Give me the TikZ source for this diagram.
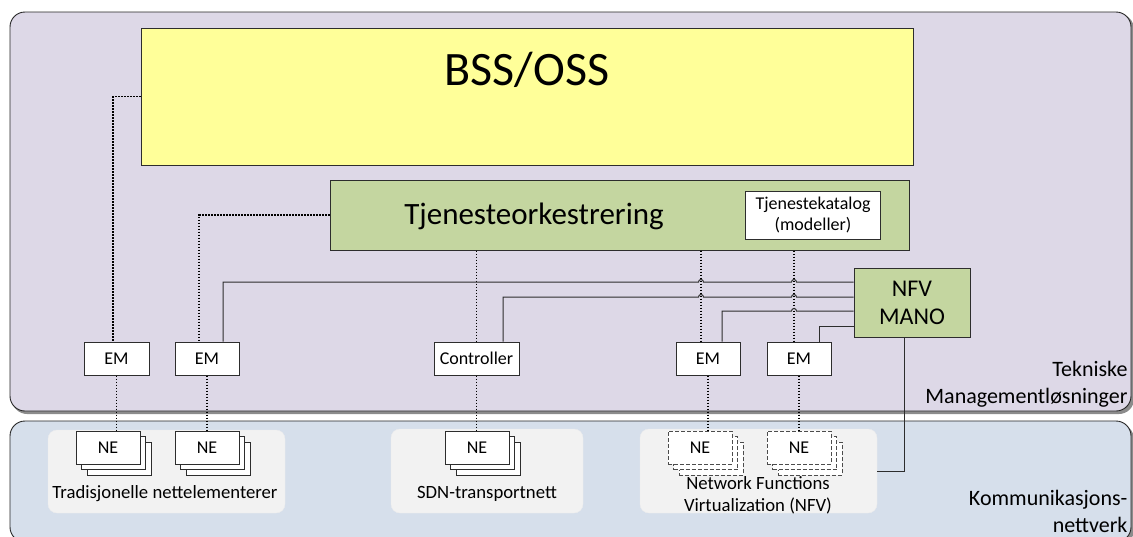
\documentclass[tikz,border=0pt]{standalone}
\usepackage{fontspec}
\setmainfont{Carlito}
\usetikzlibrary{calc,shadows}

\definecolor{mgmtbg}{RGB}{221,216,231}
\definecolor{netbg}{RGB}{214,223,235}
\definecolor{grpbg}{RGB}{242,242,242}
\definecolor{bssyellow}{RGB}{255,255,153}
\definecolor{orkgreen}{RGB}{196,214,160}
\definecolor{edge}{RGB}{45,45,45}

\tikzset{
    region/.style={draw=black!85, line width=0.9pt, rounded corners=15pt},
    regionshade/.style={fill=black!45, draw=none, rounded corners=15pt},
    group/.style={fill=grpbg, draw=black!7, rounded corners=9pt, inner sep=0pt},
    mgmt/.style={draw=edge, line width=1pt, inner sep=0pt},
    box/.style={mgmt, fill=white, minimum height=33pt, font=\fontsize{18}{21}\selectfont},
    nestack/.style={box, minimum width=64pt,
        copy shadow={shadow xshift=11pt, shadow yshift=-11pt},
        copy shadow={shadow xshift=5.5pt, shadow yshift=-5.5pt}},
    vnestack/.style={nestack, draw=black!70, dash pattern=on 4pt off 2pt},
    dotline/.style={line width=1.1pt, dash pattern=on 1.6pt off 1.4pt},
    solidline/.style={draw=edge, line width=1pt}
}

\begin{document}
\begin{tikzpicture}[x=1pt, y=-1pt]
    \useasboundingbox (0,0) rectangle (1133,536);

    %% regions
    \fill[regionshade] (12,14) rectangle (1134,414);
    \draw[region, fill=mgmtbg] (10,12) rectangle (1131,411);
    \fill[regionshade] (12,424) rectangle (1134,545);
    \draw[region, fill=netbg] (10,421) rectangle (1131,542);

    \node[align=right, anchor=east, font=\fontsize{22}{27}\selectfont] (mgmtlabel) at (1131,384) {Tekniske\\Managementløsninger};
    \node[align=right, anchor=east, font=\fontsize{22}{27}\selectfont] (netlabel) at (1131,511) {Kommunikasjons-\\nettverk};

    %% BSS/OSS and orchestration
    \node[mgmt, fill=bssyellow, minimum width=772pt, minimum height=137pt] (bss) at (527,96.5) {};
        \node[font=\fontsize{48}{56}\selectfont] (bsstitle) at (527,70) {BSS/OSS};
    \node[mgmt, fill=orkgreen, minimum width=579pt, minimum height=70pt] (tjen) at (619.5,215) {};
        \node[font=\fontsize{31}{36}\selectfont] (tjentitle) at (534,216) {Tjenesteorkestrering};
        \node[box, minimum width=135pt, minimum height=48pt, align=center] (katalog) at (813,215) {Tjenestekatalog\\(modeller)};
    \node[mgmt, fill=orkgreen, minimum width=116pt, minimum height=69pt, align=center,
          font=\fontsize{24}{28}\selectfont] (nfv) at (912,302.5) {NFV\\MANO};

    %% element managers
    \node[box, minimum width=65pt] (em1) at (116.5,358.5) {EM};
    \node[box, minimum width=64pt] (em2) at (207,358.5) {EM};
    \node[box, minimum width=85pt] (ctrl) at (476.5,358.5) {Controller};
    \node[box, minimum width=64pt] (em3) at (708,358.5) {EM};
    \node[box, minimum width=64pt] (em4) at (799,358.5) {EM};

    %% network groups
    \node[group, minimum width=237pt, minimum height=83pt] (tradgrp) at (166.5,471.5) {};
        \node[font=\fontsize{18.7}{21}\selectfont] (tradlabel) at (165,494) {Tradisjonelle nettelementerer};
    \node[group, minimum width=192pt, minimum height=84pt] (sdngrp) at (487,471) {};
        \node[font=\fontsize{18.7}{21}\selectfont] (sdnlabel) at (487,494) {SDN-transportnett};
    \node[group, minimum width=237pt, minimum height=84pt] (nfvgrp) at (758.5,471) {};
        \node[align=center, font=\fontsize{18.7}{22}\selectfont] (nfvlabel) at (758,495) {Network Functions\\Virtualization (NFV)};

    \node[nestack] (ne1) at (108,447.5) {NE};
    \node[nestack] (ne2) at (207,447.5) {NE};
    \node[nestack] (ne3) at (477,447.5) {NE};
    \node[vnestack] (ne4) at (700,447.5) {NE};
    \node[vnestack] (ne5) at (799,447.5) {NE};

    %% dotted management links
    \coordinate (em3dot) at ($(em3.north)+(-7,0)$);
    \coordinate (em4dot) at ($(em4.north)+(-5,0)$);
    \draw[dotline] (bss.west) -| ($(em1.north)+(-3.5,0)$);
    \draw[dotline] ($(bss.south)+(-7,0)$) -- ($(bss.south)+(-7,0)$ |- tjen.north);
    \draw[dotline] (tjen.west) -| ($(em2.north)+(-8,0)$);
    \draw[dotline] (ctrl.north |- tjen.south) -- (ctrl.north);
    \draw[dotline] (em3dot |- tjen.south) -- (em3dot);
    \draw[dotline] (em4dot |- tjen.south) -- (em4dot);

    \draw[dotline] (em1.south) -- (em1.south |- ne1.north);
    \draw[dotline] (em2.south) -- (ne2.north);
    \draw[dotline] (ctrl.south) -- (ctrl.south |- ne3.north);
    \draw[dotline] (em3.south) -- (em3.south |- ne4.north);
    \draw[dotline] (em4.south) -- (ne5.north);

    %% NFV MANO links
    \coordinate (nfvA) at ($(nfv.west)+(0,-20.5)$);
    \coordinate (nfvB) at ($(nfv.west)+(0,-5.5)$);
    \coordinate (nfvC) at ($(nfv.west)+(0,8.5)$);
    \coordinate (nfvD) at ($(nfv.west)+(0,23.5)$);
    \draw[solidline] ($(nfv.north)+(-30,0)$) -- ($(nfv.north)+(-30,0)$ |- tjen.south);
    \draw[solidline] (nfvA) -- ($(em4dot |- nfvA)+(2.5,0)$) arc[start angle=0, end angle=180, radius=2.5pt]
        -- ($(em3dot |- nfvA)+(2.5,0)$) arc[start angle=0, end angle=180, radius=2.5pt]
        -| ($(em2.north)+(16,0)$);
    \draw[solidline] (nfvB) -- ($(em4dot |- nfvB)+(2.5,0)$) arc[start angle=0, end angle=180, radius=2.5pt]
        -- ($(em3dot |- nfvB)+(2.5,0)$) arc[start angle=0, end angle=180, radius=2.5pt]
        -| ($(ctrl.north)+(26.5,0)$);
    \draw[solidline] (nfvC) -- ($(em4dot |- nfvC)+(2.5,0)$) arc[start angle=0, end angle=180, radius=2.5pt]
        -| ($(em3.north)+(14,0)$);
    \draw[solidline] (nfvD) -| ($(em4.north)+(20,0)$);
    \draw[solidline] ($(nfv.south)+(-8,0)$) |- (nfvgrp.east);
\end{tikzpicture}
\end{document}
